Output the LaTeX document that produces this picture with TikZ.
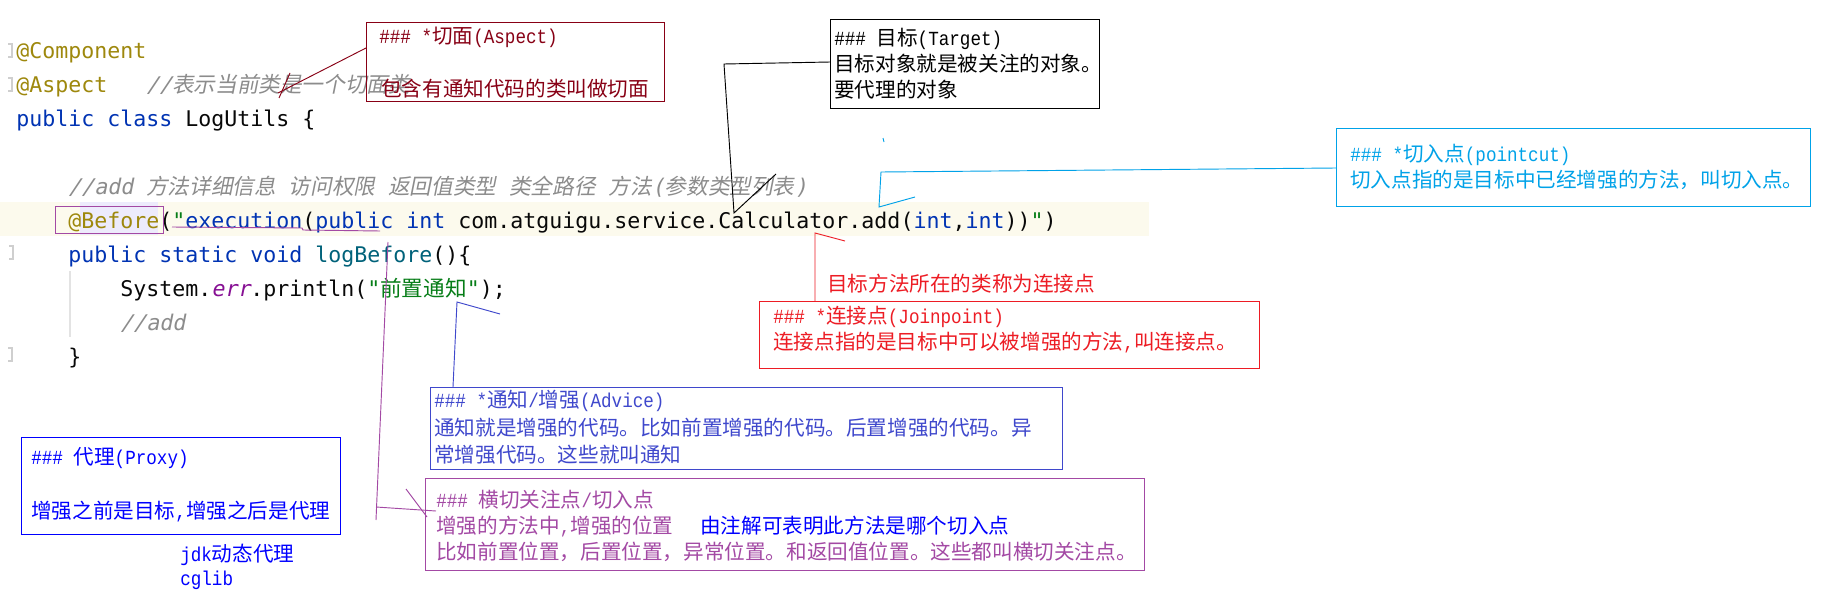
\documentclass[tikz,border=0pt]{standalone}
\usepackage{fontspec}
\usetikzlibrary{calc}
\newfontfamily\codefont{DejaVu Sans Mono}
\newfontfamily\codeslant{DejaVu Sans Mono}[FakeSlant=0.2]
\newfontfamily\cjkfont{Noto Sans CJK SC}
\newfontfamily\cjkslant{Noto Sans CJK SC}[FakeSlant=0.2]
\newfontfamily\annL{Liberation Mono}[FakeStretch=0.88]
\newcommand\Cs[1]{{\codeslant #1}}
\newcommand\Cj[1]{{\cjkslant #1}}
\newcommand\AL[1]{{\fontsize{15pt}{18pt}\annL #1}}
\definecolor{aspc}{HTML}{880015}
\definecolor{cyanc}{HTML}{00A2E8}
\definecolor{redc}{HTML}{ED1C24}
\definecolor{advc}{HTML}{3F48CC}
\definecolor{purc}{HTML}{A349A4}
\definecolor{proxc}{HTML}{0000FF}
\definecolor{annc}{HTML}{9E880D}
\definecolor{kwc}{HTML}{0033B3}
\definecolor{cmtc}{HTML}{8C8C8C}
\definecolor{mthc}{HTML}{00627A}
\definecolor{fldc}{HTML}{871094}
\definecolor{strc}{HTML}{067D17}
\definecolor{txtc}{HTML}{080808}
\definecolor{hlc}{HTML}{FCFAED}
\definecolor{lavc}{HTML}{EDEBFC}
\definecolor{gutc}{HTML}{CFCFCF}
\definecolor{guidec}{HTML}{E3E3E3}
\tikzset{
  code/.style={anchor=base west, inner sep=0pt, text=txtc, font=\fontsize{16.2pt}{20pt}\codefont},
  ann/.style={anchor=base west, inner sep=0pt, font=\fontsize{15.45pt}{18pt}\cjkfont},
  abox/.style={draw, line width=0.8pt, anchor=north west, inner sep=0pt},
  conn/.style={line width=0.7pt},
  gutter/.style={draw=gutc, line width=0.8pt}
}
\begin{document}
\begin{tikzpicture}[x=0.75pt,y=-0.75pt]
\useasboundingbox (0,0) rectangle (1832,614);
\fill[white] (0,0) rectangle (1832,614);
% editor background details
\fill[hlc] (0,202) rectangle (1149,236);
\fill[lavc] (80,202) rectangle (158,235);
\draw[guidec, line width=0.8pt] (70,271) -- (70,337);
\draw[gutter] (8,44) -- (12,44) -- (12,57) -- (8,57);
\draw[gutter] (8,78) -- (12,78) -- (12,91) -- (8,91);
\draw[gutter] (9,246) -- (13,246) -- (13,259) -- (9,259);
\draw[gutter] (8,348) -- (12,348) -- (12,361) -- (8,361);
% code
\node[code] (l1) at (16,58) {\color{annc}@Component};
\node[code] (l2) at (16,92) {\color{annc}@Aspect};
\node[code] (l2c) at (146,92) {\color{cmtc}\Cs{//}\Cj{表示当前类是一个切面类}};
\node[code] (l3) at (16,126) {{\color{kwc}public class} LogUtils \{};
\node[code] (l4) at (68,194) {\color{cmtc}\Cs{//add }\Cj{方法详细信息}\Cs{ }\Cj{访问权限}\Cs{ }\Cj{返回值类型}\Cs{ }\Cj{类全路径}\Cs{ }\Cj{方法}\Cs{(}\Cj{参数类型列表}\Cs{)}};
\node[code] (l5) at (68,228) {{\color{annc}@Before}({\color{strc}"}{\color{kwc}execution}({\color{kwc}public int} com.atguigu.service.Calculator.add({\color{kwc}int},{\color{kwc}int})){\color{strc}"})};
\node[code] (l6) at (68,262) {{\color{kwc}public static void} {\color{mthc}logBefore}()\{};
\node[code] (l7) at (120,296) {System.{\color{fldc}\codeslant err}.println({\color{strc}"{\cjkfont 前置通知}"});};
\node[code] (l8) at (120,330) {\color{cmtc}\Cs{//add}};
\node[code] (l9) at (68,364) {\}};
% boxes
\node[abox, draw=purc, line width=0.7pt, minimum width=81pt, minimum height=20.25pt] (beforebox) at (55,206) {};
\node[abox, draw=aspc, minimum width=223.5pt, minimum height=59.25pt] (aspect) at (366,22) {};
\node[abox, draw=black, minimum width=201.75pt, minimum height=66.75pt] (target) at (830,19) {};
\node[abox, draw=cyanc, minimum width=355.5pt, minimum height=58.5pt] (pointcut) at (1336,128) {};
\node[abox, draw=redc, minimum width=375pt, minimum height=50.25pt] (joinpt) at (759,301) {};
\node[abox, draw=advc, minimum width=474pt, minimum height=61.5pt] (advice) at (430,387) {};
\node[abox, draw=purc, minimum width=539.25pt, minimum height=69pt] (crosscut) at (425,478) {};
\node[abox, draw=proxc, line width=1pt, minimum width=239.25pt, minimum height=72.75pt] (proxy) at (21,437) {};
% box texts
\node[ann, text=aspc] (asp1) at (379,43) {\AL{\#\#\# *}切面\AL{(Aspect)}};
\node[ann, text=aspc] (asp2) at (381,96) {包含有通知代码的类叫做切面};
\node[ann, text=black] (tg1) at (834,45) {\AL{\#\#\# }目标\AL{(Target)}};
\node[ann, text=black] (tg2) at (834,71) {目标对象就是被关注的对象。};
\node[ann, text=black] (tg3) at (834,97) {要代理的对象};
\node[ann, text=cyanc] (pc1) at (1350,161) {\AL{\#\#\# *}切入点\AL{(pointcut)}};
\node[ann, text=cyanc] (pc2) at (1350,187) {切入点指的是目标中已经增强的方法，叫切入点。};
\node[ann, text=redc] (jplabel) at (827,291) {目标方法所在的类称为连接点};
\node[ann, text=redc] (jp1) at (773,323) {\AL{\#\#\# *}连接点\AL{(Joinpoint)}};
\node[ann, text=redc] (jp2) at (773,349) {连接点指的是目标中可以被增强的方法\AL{,}叫连接点。};
\node[ann, text=advc] (ad1) at (434,407) {\AL{\#\#\# *}通知\AL{/}增强\AL{(Advice)}};
\node[ann, text=advc] (ad2) at (434,435) {通知就是增强的代码。比如前置增强的代码。后置增强的代码。异};
\node[ann, text=advc] (ad3) at (434,462) {常增强代码。这些就叫通知};
\node[ann, text=purc] (cc1) at (436,507) {\AL{\#\#\# }横切关注点\AL{/}切入点};
\node[ann, text=purc] (cc2) at (436,533) {增强的方法中\AL{,}增强的位置};
\node[ann, text=proxc] (cc2b) at (700,533) {由注解可表明此方法是哪个切入点};
\node[ann, text=purc] (cc3) at (436,559) {比如前置位置，后置位置，异常位置。和返回值位置。这些都叫横切关注点。};
\node[ann, text=proxc] (px1) at (31,464) {\AL{\#\#\# }代理\AL{(Proxy)}};
\node[ann, text=proxc] (px2) at (31,518) {增强之前是目标\AL{,}增强之后是代理};
\node[ann, text=proxc] (jdk) at (180,561) {\AL{jdk}动态代理};
\node[ann, text=proxc] (cglib) at (180,585) {\AL{cglib}};
% connector end points
\coordinate (aspA) at (278,93);
\coordinate (aspT1) at (290,73);
\coordinate (aspT2) at (279,98);
\coordinate (tgA) at (724,64);
\coordinate (tgB) at (734,213);
\coordinate (tgC) at (776,174);
\coordinate (pcA) at (881,172);
\coordinate (pcB) at (879,207);
\coordinate (pcC) at (915,197);
\coordinate (pcM1) at (883,138);
\coordinate (pcM2) at (884,142);
\coordinate (jpA) at (815,233);
\coordinate (jpC) at (845,241);
\coordinate (adA) at (457,302);
\coordinate (adB) at (453,0);
\coordinate (adC) at (500,314);
\coordinate (ulA) at (172,227);
\coordinate (ulB) at (302,228);
\coordinate (ulC) at (303,230);
\coordinate (ulD) at (380,231);
\coordinate (ccA) at (388,242);
\coordinate (ccB) at (376,520);
\coordinate (ccH) at (376,507);
\coordinate (ccD1) at (406,489);
\coordinate (ccD2) at (427,517);
% connectors
\draw[conn, aspc] ($(aspect.north west)+(0,26)$) -- (aspA);
\draw[conn, aspc] (aspT1) -- (aspT2);
\draw[conn, black] ($(target.north west)+(0,43)$) -- (tgA) -- (tgB) -- (tgC);
\draw[conn, cyanc] ($(pointcut.north west)+(0,40)$) -- (pcA) -- (pcB) -- (pcC);
\draw[conn, cyanc] (pcM1) -- (pcM2);
\draw[conn, redc] (jpC) -- (jpA) -- (jpA |- joinpt.north);
\draw[conn, advc] (adC) -- (adA) -- (adB |- advice.north);
\draw[conn, purc] (ulA) -- (ulB) -- (ulC) -- (ulD);
\draw[conn, purc] (ccA) -- (ccB);
\draw[conn, purc] (ccH) -- ($(crosscut.north west)+(11,33)$);
\draw[conn, purc] (ccD1) -- (ccD2);
\end{tikzpicture}
\end{document}
